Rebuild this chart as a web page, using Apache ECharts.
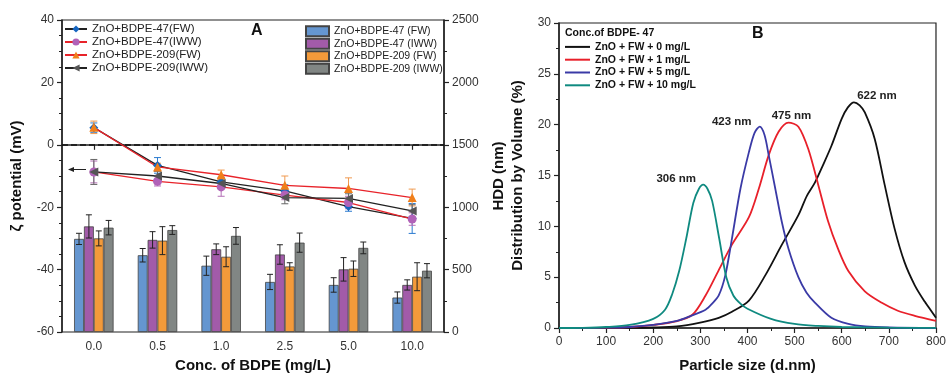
<!DOCTYPE html>
<html><head><meta charset="utf-8">
<script src="https://cdn.jsdelivr.net/npm/echarts@6/dist/echarts.min.js"></script>
<style>html,body{margin:0;padding:0;background:#fff}#c{width:949px;height:378px}</style>
</head><body><div id="c"></div>
<script>
// ---------- Panel A data ----------
const categories = ['0.0', '0.5', '1.0', '2.5', '5.0', '10.0'];
// zeta potential (mV), left axis
const zeta47FW = [5.5, -6.6, -11.9, -14.8, -19.8, -23.6];
const zeta47FWErr = [1.5, 2.5, 1.5, 2, 1.5, 4.8];
const zeta47IWW = [-8.7, -11.7, -13.5, -16.1, -18.5, -23.8];
const zeta47IWWErr = [3.5, 1.5, 3, 1.5, 2, 2];
const zeta209FW = [5.6, -7.1, -9.6, -13.0, -14.0, -16.9];
const zeta209FWErr = [2, 1.2, 1.5, 3, 3.4, 2.7];
const zeta209IWW = [-8.7, -10.0, -12.4, -16.9, -17.2, -21.2];
const zeta209IWWErr = [4, 1.5, 1.5, 2, 1.5, 2];
// HDD (nm), right axis
const hdd47FW = [746, 615, 531, 401, 377, 276];
const hdd47FWErr = [45, 54, 77, 61, 58, 45];
const hdd47IWW = [846, 738, 663, 621, 502, 377];
const hdd47IWWErr = [93, 66, 43, 78, 94, 41];
const hdd209FW = [750, 732, 603, 525, 507, 443];
const hdd209FWErr = [60, 112, 80, 30, 62, 112];
const hdd209IWW = [836, 817, 770, 716, 674, 491];
const hdd209IWWErr = [58, 35, 67, 77, 47, 57];

// ---------- Panel B data ----------
const size0 = [0, 150, 200, 250, 297, 339, 367, 403, 438, 473, 508, 526, 543, 560, 578, 600, 613, 626, 638, 649, 670, 691, 712, 733, 755, 776, 800];
const dist0 = [0, 0.02, 0.05, 0.15, 0.5, 1.0, 1.6, 2.7, 5.2, 8.2, 11.1, 13.0, 14.3, 16.0, 17.9, 20.6, 21.7, 22.2, 21.9, 21.2, 18.6, 14.1, 9.8, 6.5, 4.2, 2.6, 1.0];
const size1 = [0, 100, 150, 200, 248, 283, 311, 339, 367, 403, 424, 445, 466, 487, 508, 529, 550, 571, 592, 614, 649, 684, 719, 755, 800];
const dist1 = [0, 0.03, 0.1, 0.3, 0.65, 1.3, 3.2, 5.7, 8.2, 10.9, 13.7, 17.0, 19.3, 20.2, 19.8, 17.6, 14.1, 10.5, 7.8, 5.6, 3.6, 2.5, 1.7, 1.2, 0.7];
const size5 = [0, 100, 150, 200, 250, 280, 311, 325, 339, 353, 367, 385, 403, 415, 426, 436, 445, 459, 473, 487, 508, 525, 543, 578, 614, 650, 700, 800];
const dist5 = [0, 0.03, 0.1, 0.3, 0.7, 1.2, 1.8, 2.4, 3.2, 5.2, 8.8, 13.7, 17.3, 19.2, 19.8, 19.0, 17.0, 13.7, 10.4, 7.8, 5.0, 3.5, 2.5, 1.0, 0.4, 0.15, 0.05, 0];
const size10 = [0, 50, 100, 150, 200, 225, 240, 255, 270, 285, 297, 306, 315, 325, 340, 355, 370, 385, 400, 450, 500, 550, 600, 700, 800];
const dist10 = [0, 0.02, 0.1, 0.3, 0.9, 1.8, 3.3, 5.6, 8.8, 12.3, 13.7, 14.1, 13.7, 12.5, 8.8, 5.0, 3.2, 2.4, 1.9, 0.9, 0.4, 0.2, 0.1, 0.03, 0.01];
const peakLabels = ['622 nm', '475 nm', '423 nm', '306 nm'];

const FONT = 'Liberation Sans, Arial, sans-serif';
const AX = '#222';

function pairs(xs, ys) { return xs.map((x, i) => [x, ys[i]]); }
function peakOf(xs, ys) { let k = 0; ys.forEach((v, i) => { if (v > ys[k]) k = i; }); return [xs[k], ys[k]]; }

function errSeries(name, vals, errs, yAxisIndex, color, slot, capW) {
  return {
    type: 'custom', name: name, xAxisIndex: 0, yAxisIndex: yAxisIndex, z: 5,
    data: vals.map((v, i) => [i, v, errs[i]]),
    renderItem: function (params, api) {
      const x = api.value(0), v = api.value(1), e = api.value(2);
      const bw = api.size([1, 0])[0];
      const dx = slot == null ? 0 : (slot - 1.5) * bw * 0.155;
      const t = api.coord([x, v + e]), b = api.coord([x, v - e]);
      const cx = t[0] + dx;
      const st = { stroke: color, lineWidth: 1 };
      return { type: 'group', children: [
        { type: 'line', shape: { x1: cx, y1: t[1], x2: cx, y2: b[1] }, style: st },
        { type: 'line', shape: { x1: cx - capW, y1: t[1], x2: cx + capW, y2: t[1] }, style: st },
        { type: 'line', shape: { x1: cx - capW, y1: b[1], x2: cx + capW, y2: b[1] }, style: st }
      ] };
    }
  };
}

function barSeries(name, vals, color) {
  return { type: 'bar', name: name, xAxisIndex: 0, yAxisIndex: 1, data: vals, barWidth: '15.5%', barGap: '0%',
    itemStyle: { color: color, borderColor: '#444', borderWidth: 0.8 }, z: 2 };
}
function lineSeries(name, vals, lineColor, symColor, symbol, rot) {
  return { type: 'line', name: name, xAxisIndex: 0, yAxisIndex: 0, data: vals, symbol: symbol, symbolSize: 9,
    symbolRotate: rot || 0, lineStyle: { color: lineColor, width: 1.3 }, itemStyle: { color: symColor }, z: 6 };
}
function curve(name, xs, ys, color, label, off) {
  const pk = peakOf(xs, ys);
  return { type: 'line', name: name, xAxisIndex: 1, yAxisIndex: 2, data: pairs(xs, ys), symbol: 'none', smooth: 0.3,
    lineStyle: { color: color, width: 1.8 }, itemStyle: { color: color },
    markPoint: { symbol: 'circle', symbolSize: 1, itemStyle: { color: 'rgba(0,0,0,0)' },
      data: [{ coord: pk, label: { show: true, formatter: label, offset: off, color: '#222', fontWeight: 'bold', fontSize: 11.5, fontFamily: FONT } }] } };
}

const axisCommon = {
  axisLine: { show: true, lineStyle: { color: AX, width: 1.5 } },
  axisTick: { show: true, length: 5, lineStyle: { color: AX, width: 1.2 } },
  axisLabel: { color: '#333', fontSize: 12, fontFamily: FONT, formatter: (v) => String(v) },
  splitLine: { show: false },
  nameTextStyle: { color: '#111', fontSize: 15, fontWeight: 'bold', fontFamily: FONT },
  nameLocation: 'middle'
};
const minor = (n) => ({ show: true, splitNumber: n, length: 3, lineStyle: { color: AX, width: 1 } });

const chart = echarts.init(document.getElementById('c'));
chart.setOption({
  animation: false,
  backgroundColor: '#fff',
  textStyle: { fontFamily: FONT },
  title: [
    { text: 'A', left: 246, top: 18, textStyle: { fontSize: 16, fontWeight: 'bold', color: '#111', fontFamily: FONT } },
    { text: 'B', left: 747, top: 21, textStyle: { fontSize: 16, fontWeight: 'bold', color: '#111', fontFamily: FONT } },
    { text: 'Conc.of BDPE- 47', left: 560, top: 23, textStyle: { fontSize: 10.5, fontWeight: 'bold', color: '#111', fontFamily: FONT } }
  ],
  grid: [
    { left: 62, right: 505, top: 20, bottom: 44, show: true, borderColor: AX, borderWidth: 1.2 },
    { left: 559, right: 11, top: 23, bottom: 48, show: true, borderColor: AX, borderWidth: 1.2 }
  ],
  legend: [
    { data: ['ZnO+BDPE-47(FW)', 'ZnO+BDPE-47(IWW)', 'ZnO+BDPE-209(FW)', 'ZnO+BDPE-209(IWW)'], orient: 'vertical',
      left: 64, top: 22.5, padding: 0, itemWidth: 22, itemHeight: 9, itemGap: 0,
      textStyle: { fontSize: 11.5, lineHeight: 13, color: '#222', fontFamily: FONT } },
    { data: ['ZnO+BDPE-47 (FW)', 'ZnO+BDPE-47 (IWW)', 'ZnO+BDPE-209 (FW)', 'ZnO+BDPE-209 (IWW)'], orient: 'vertical',
      left: 305, top: 25, padding: 0, itemWidth: 23, itemHeight: 10, itemGap: 0, icon: 'rect',
      textStyle: { fontSize: 10.5, lineHeight: 12.5, color: '#222', fontFamily: FONT } },
    { data: ['ZnO + FW + 0 mg/L', 'ZnO + FW + 1 mg/L', 'ZnO + FW + 5 mg/L', 'ZnO + FW + 10 mg/L'], orient: 'vertical',
      left: 565, top: 40.5, padding: 0, itemWidth: 25, itemHeight: 2, itemGap: 0, icon: 'rect',
      textStyle: { fontSize: 10.5, lineHeight: 12.8, fontWeight: 'bold', color: '#111', fontFamily: FONT } }
  ],
  xAxis: [
    Object.assign({}, axisCommon, { type: 'category', gridIndex: 0, data: categories, name: 'Conc. of BDPE (mg/L)', nameGap: 26,
      axisTick: { show: true, alignWithLabel: true, length: 5, lineStyle: { color: AX, width: 1.2 } },
      axisLabel: { color: '#333', fontSize: 12, fontFamily: FONT, margin: 9 } }),
    Object.assign({}, axisCommon, { type: 'value', gridIndex: 1, min: 0, max: 800, interval: 100, minorTick: minor(2),
      name: 'Particle size (d.nm)', nameGap: 30 })
  ],
  yAxis: [
    Object.assign({}, axisCommon, { type: 'value', gridIndex: 0, min: -60, max: 40, interval: 20, minorTick: minor(4),
      name: 'ζ potential (mV)', nameGap: 38 }),
    Object.assign({}, axisCommon, { type: 'value', gridIndex: 0, position: 'right', min: 0, max: 2500, interval: 500, minorTick: minor(2),
      name: 'HDD (nm)', nameGap: 47 }),
    Object.assign({}, axisCommon, { type: 'value', gridIndex: 1, min: 0, max: 30, interval: 5, minorTick: minor(2),
      name: 'Distribution by Volume (%)', nameGap: 34 })
  ],
  graphic: [
    { type: 'line', shape: { x1: 86, y1: 169.5, x2: 72, y2: 169.5 }, style: { stroke: '#222', lineWidth: 1 }, z: 10 },
    { type: 'polygon', shape: { points: [[68, 169.5], [74, 167], [74, 172]] }, style: { fill: '#222' }, z: 10 }
  ],
  series: [
    barSeries('ZnO+BDPE-47 (FW)', hdd47FW, '#6596d0'),
    barSeries('ZnO+BDPE-47 (IWW)', hdd47IWW, '#a25ba9'),
    barSeries('ZnO+BDPE-209 (FW)', hdd209FW, '#f39a3a'),
    barSeries('ZnO+BDPE-209 (IWW)', hdd209IWW, '#818684'),
    errSeries('e1', hdd47FW, hdd47FWErr, 1, '#222', 0, 3),
    errSeries('e2', hdd47IWW, hdd47IWWErr, 1, '#222', 1, 3),
    errSeries('e3', hdd209FW, hdd209FWErr, 1, '#222', 2, 3),
    errSeries('e4', hdd209IWW, hdd209IWWErr, 1, '#222', 3, 3),
    errSeries('z1', zeta47FW, zeta47FWErr, 0, '#2b7bd0', null, 3.5),
    errSeries('z2', zeta47IWW, zeta47IWWErr, 0, '#b46fb6', null, 3.5),
    errSeries('z3', zeta209FW, zeta209FWErr, 0, '#f09a50', null, 3.5),
    errSeries('z4', zeta209IWW, zeta209IWWErr, 0, '#666', null, 3.5),
    Object.assign(lineSeries('ZnO+BDPE-47(FW)', zeta47FW, '#222', '#1565c0', 'diamond'), {
      markLine: { silent: true, symbol: 'none', label: { show: false }, lineStyle: { color: '#111', type: 'dashed', width: 1.5 }, data: [{ yAxis: 0 }] } }),
    lineSeries('ZnO+BDPE-47(IWW)', zeta47IWW, '#e8232a', '#b162b8', 'circle'),
    lineSeries('ZnO+BDPE-209(FW)', zeta209FW, '#e8232a', '#f07f1a', 'triangle'),
    lineSeries('ZnO+BDPE-209(IWW)', zeta209IWW, '#222', '#555', 'triangle', 90),
    curve('ZnO + FW + 0 mg/L', size0, dist0, '#111', peakLabels[0], [23, -6]),
    curve('ZnO + FW + 1 mg/L', size1, dist1, '#e8202a', peakLabels[1], [3, -7]),
    curve('ZnO + FW + 5 mg/L', size5, dist5, '#3a3aa6', peakLabels[2], [-28, -5]),
    curve('ZnO + FW + 10 mg/L', size10, dist10, '#0f8a80', peakLabels[3], [-27, -6])
  ]
});
</script></body></html>
